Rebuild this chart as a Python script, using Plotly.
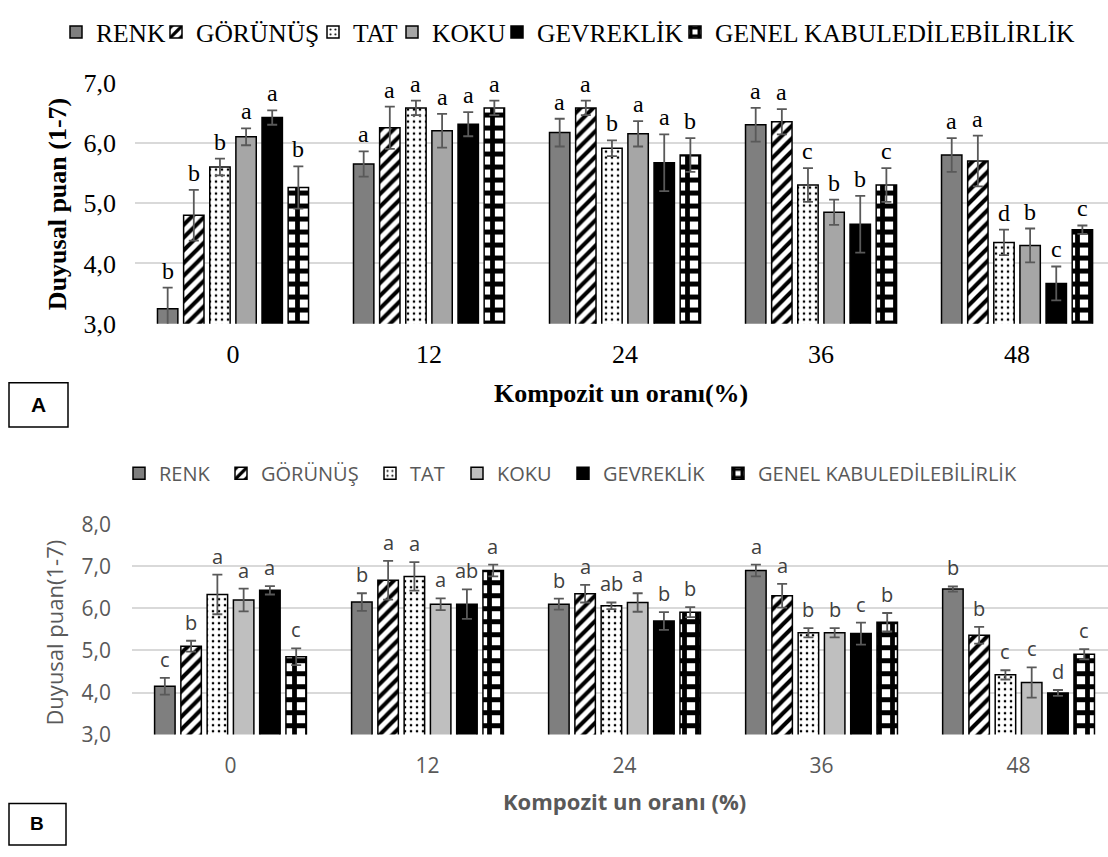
import plotly.graph_objects as go

categories = ["0", "12", "24", "36", "48"]
series_names = ["RENK", "GÖRÜNÜŞ", "TAT", "KOKU", "GEVREKLİK", "GENEL KABULEDİLEBİLİRLİK"]

# Panel A values
a_renk = [3.25, 5.65, 6.17, 6.30, 5.80]
a_gorunus = [4.80, 6.25, 6.58, 6.35, 5.70]
a_tat = [5.60, 6.58, 5.91, 5.30, 4.35]
a_koku = [6.10, 6.20, 6.15, 4.85, 4.30]
a_gevreklik = [6.42, 6.31, 5.67, 4.65, 3.67]
a_genel = [5.26, 6.58, 5.80, 5.30, 4.56]

a_renk_err = [0.35, 0.21, 0.23, 0.28, 0.28]
a_gorunus_err = [0.42, 0.35, 0.12, 0.21, 0.42]
a_tat_err = [0.14, 0.12, 0.13, 0.28, 0.21]
a_koku_err = [0.14, 0.28, 0.21, 0.21, 0.28]
a_gevreklik_err = [0.12, 0.20, 0.47, 0.47, 0.28]
a_genel_err = [0.35, 0.12, 0.28, 0.28, 0.07]

a_renk_lab = ["b", "a", "a", "a", "a"]
a_gorunus_lab = ["b", "a", "a", "a", "a"]
a_tat_lab = ["b", "a", "b", "c", "d"]
a_koku_lab = ["a", "a", "a", "b", "b"]
a_gevreklik_lab = ["a", "a", "a", "b", "c"]
a_genel_lab = ["b", "a", "b", "c", "c"]

# Panel B values
b_renk = [4.15, 6.15, 6.10, 6.90, 6.46]
b_gorunus = [5.10, 6.67, 6.35, 6.30, 5.36]
b_tat = [6.33, 6.76, 6.06, 5.42, 4.42]
b_koku = [6.20, 6.10, 6.14, 5.42, 4.24]
b_gevreklik = [6.43, 6.10, 5.70, 5.40, 3.99]
b_genel = [4.85, 6.90, 5.91, 5.67, 4.91]

b_renk_err = [0.20, 0.21, 0.13, 0.14, 0.06]
b_gorunus_err = [0.13, 0.46, 0.21, 0.28, 0.20]
b_tat_err = [0.47, 0.34, 0.08, 0.11, 0.11]
b_koku_err = [0.27, 0.14, 0.22, 0.11, 0.36]
b_gevreklik_err = [0.10, 0.35, 0.21, 0.26, 0.07]
b_genel_err = [0.20, 0.14, 0.12, 0.22, 0.12]

b_renk_lab = ["c", "b", "b", "a", "b"]
b_gorunus_lab = ["b", "a", "a", "a", "b"]
b_tat_lab = ["a", "a", "ab", "b", "c"]
b_koku_lab = ["a", "a", "a", "b", "c"]
b_gevreklik_lab = ["a", "ab", "b", "c", "d"]
b_genel_lab = ["c", "a", "b", "b", "c"]

A_vals = [a_renk, a_gorunus, a_tat, a_koku, a_gevreklik, a_genel]
A_errs = [a_renk_err, a_gorunus_err, a_tat_err, a_koku_err, a_gevreklik_err, a_genel_err]
A_labs = [a_renk_lab, a_gorunus_lab, a_tat_lab, a_koku_lab, a_gevreklik_lab, a_genel_lab]
B_vals = [b_renk, b_gorunus, b_tat, b_koku, b_gevreklik, b_genel]
B_errs = [b_renk_err, b_gorunus_err, b_tat_err, b_koku_err, b_gevreklik_err, b_genel_err]
B_labs = [b_renk_lab, b_gorunus_lab, b_tat_lab, b_koku_lab, b_gevreklik_lab, b_genel_lab]

W, H = 1108, 857
BARGAP = 0.2
CAT_PX = 196.0
PITCH = CAT_PX * (1 - BARGAP) / 6

def style(i, panel):
    koku_col = "#a6a6a6" if panel == "A" else "#bfbfbf"
    if i == 0:
        return dict(color="#7f7f7f")
    if i == 1:
        return dict(color="white", pattern=dict(shape="/", fgcolor="black", bgcolor="white", size=9, solidity=0.45, fillmode="replace"))
    if i == 2:
        return dict(color="white", pattern=dict(shape=".", fgcolor="black", bgcolor="white", size=6, solidity=0.15, fillmode="replace"))
    if i == 3:
        return dict(color=koku_col)
    if i == 4:
        return dict(color="black")
    return dict(color="white", pattern=dict(shape="+", fgcolor="black", bgcolor="white", size=13, solidity=0.6, fillmode="replace"))

legend_widths_A = [55, 112, 34, 60, 133, 370]
legend_widths_B = [57, 104, 42, 61, 110, 265]

fig = go.Figure()
annotations = []

for panel, vals, errs, labs, xa, ya, leg, lw in [
    ("A", A_vals, A_errs, A_labs, "x", "y", "legend", legend_widths_A),
    ("B", B_vals, B_errs, B_labs, "x2", "y2", "legend2", legend_widths_B),
]:
    for i, name in enumerate(series_names):
        m = style(i, panel)
        m["line"] = dict(color="black", width=1.5)
        fig.add_trace(go.Bar(
            x=categories, y=vals[i], name=name, xaxis=xa, yaxis=ya,
            marker=m, legend=leg, legendwidth=lw[i],
            error_y=dict(type="data", array=errs[i], color="#595959", thickness=1.8, width=5),
        ))
        for k, c in enumerate(categories):
            if panel == "A":
                font = dict(family="Liberation Serif", size=24, color="black")
                ys = 2
            else:
                font = dict(family="Open Sans", size=20, color="#404040")
                ys = 3
            annotations.append(dict(
                x=k, y=vals[i][k] + errs[i][k], xref=xa, yref=ya,
                text=labs[i][k], showarrow=False, xanchor="center", yanchor="bottom",
                xshift=(i - 2.5) * PITCH, yshift=ys, font=font,
            ))

def py(px):
    return 1 - px / H

serif = "Liberation Serif"
sans = "Open Sans"

def ptext(text, x, y, font, angle=0):
    return dict(text=text, x=x / W, y=py(y), xref="paper", yref="paper", textangle=angle,
                xanchor="center", yanchor="middle", showarrow=False, font=font)

annotations += [
    ptext("<b>Duyusal puan (1-7)</b>", 57, 196, dict(family=serif, size=26, color="black"), -90),
    ptext("<b>Kompozit un oranı(%)</b>", 621, 392, dict(family=serif, size=26, color="black")),
    ptext("Duyusal puan(1-7)", 54, 640, dict(family=sans, size=22, color="#595959"), -90),
    ptext("<b>Kompozit un oranı (%)</b>", 624, 815, dict(family=sans, size=22, color="#595959")),
    ptext("<b>A</b>", 38, 404, dict(family="Liberation Sans", size=21, color="black")),
    ptext("<b>B</b>", 37, 838, dict(family="Liberation Sans", size=19, color="black")),
]

shapes = [
    dict(type="rect", xref="paper", yref="paper", x0=9 / W, x1=68 / W, y0=py(427), y1=py(381),
         line=dict(color="black", width=1.5)),
    dict(type="rect", xref="paper", yref="paper", x0=9 / W, x1=66 / W, y0=py(860), y1=py(817),
         line=dict(color="black", width=1.5)),
]

grid = "#d9d9d9"
fig.update_layout(
    width=W, height=H, margin=dict(l=0, r=0, t=0, b=0),
    paper_bgcolor="white", plot_bgcolor="white",
    barmode="group", bargap=BARGAP, bargroupgap=0.22,
    separators=",.",
    showlegend=True,
    annotations=annotations, shapes=shapes,
    xaxis=dict(domain=[135 / W, 1], range=[-0.5, 4.464], anchor="y", type="category",
               showgrid=False, showline=False, ticks="", ticklabelstandoff=12,
               tickfont=dict(family=serif, size=26, color="black")),
    yaxis=dict(domain=[py(320), py(70)], range=[3, 7], anchor="x", dtick=1, tickformat=".1f",
               showgrid=True, gridcolor=grid, gridwidth=1.5, zeroline=False, showline=False,
               ticks="", ticklabelstandoff=18,
               tickfont=dict(family=serif, size=26, color="black")),
    xaxis2=dict(domain=[132 / W, 1], range=[-0.5, 4.454], anchor="y2", type="category",
                showgrid=False, showline=False, ticks="", ticklabelstandoff=16,
                tickfont=dict(family=sans, size=21, color="#595959")),
    yaxis2=dict(domain=[py(745.7), py(527.7)], range=[3, 8], anchor="x2", dtick=1, tickformat=".1f",
                showgrid=True, gridcolor=grid, gridwidth=1.5, zeroline=False, showline=False,
                ticks="", ticklabelstandoff=20,
                tickfont=dict(family=sans, size=21, color="#595959")),
    legend=dict(orientation="h", x=56 / W, xanchor="left", y=py(18), yanchor="middle",
                font=dict(family=serif, size=25.5, color="black"), itemwidth=30,
                bgcolor="rgba(0,0,0,0)", traceorder="normal", itemclick=False),
    legend2=dict(orientation="h", x=119 / W, xanchor="left", y=py(475), yanchor="middle",
                 font=dict(family=sans, size=20, color="#595959"), itemwidth=30,
                 bgcolor="rgba(0,0,0,0)", traceorder="normal", itemclick=False),
)

fig.write_html("out.html", config={"displayModeBar": False},
               post_script="document.body.style.margin='0';document.body.style.overflow='hidden';")
